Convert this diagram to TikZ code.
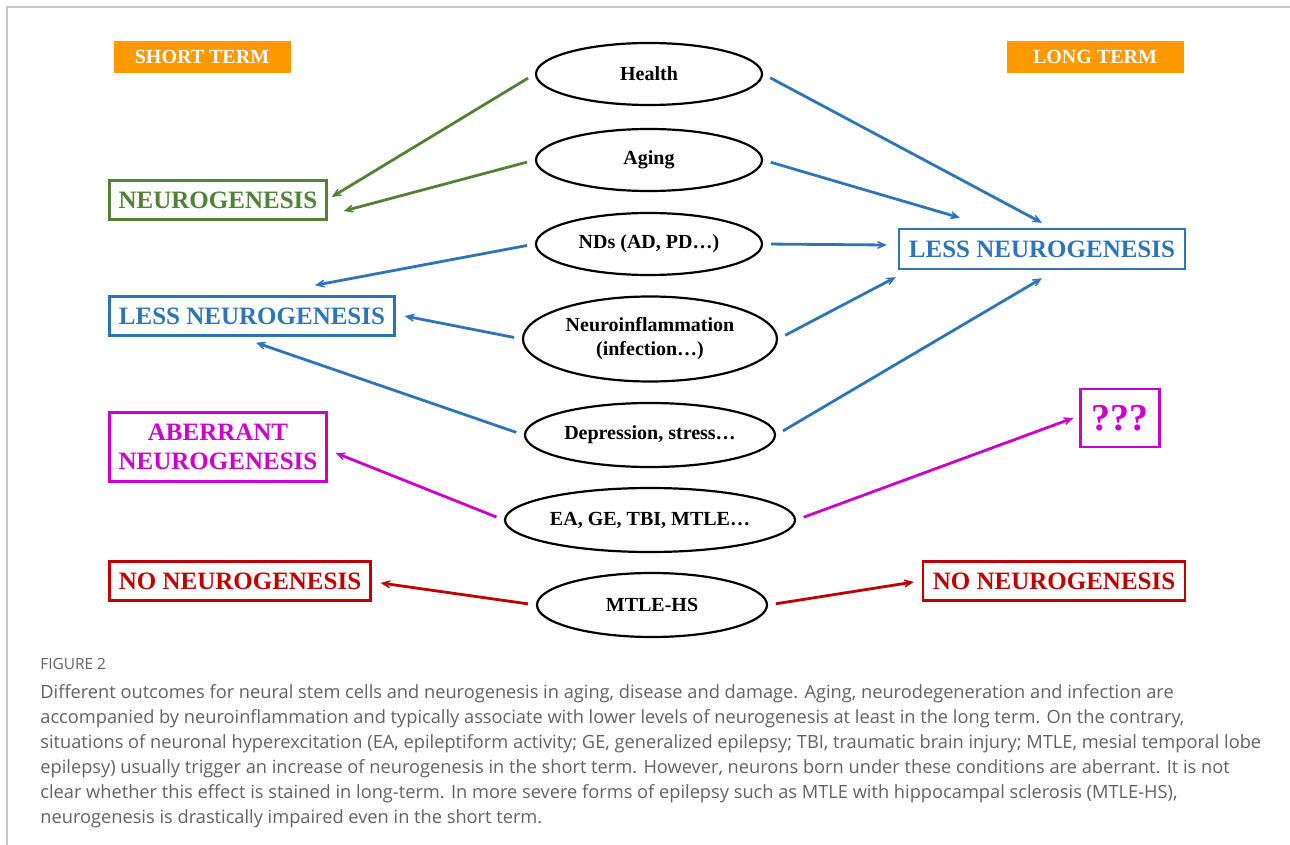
\documentclass[tikz,border=0pt]{standalone}
\usepackage{fontspec}
\setmainfont{Liberation Serif}
\newfontfamily\capfont{Open Sans}
\usetikzlibrary{arrows.meta, shapes.geometric, positioning}
\definecolor{ngreen}{HTML}{538135}
\definecolor{nblue}{HTML}{2E75B6}
\definecolor{nmag}{HTML}{CC00CC}
\definecolor{nred}{HTML}{C00000}
\definecolor{norange}{HTML}{FF9900}
\definecolor{capgray}{HTML}{626262}
\tikzset{
cond/.style={ellipse, draw, line width=1.1pt, inner sep=0pt, align=center, font=\bfseries\fontsize{10}{12}\selectfont}, % the conditions in the middle column
outcome/.style={draw=#1, text=#1, line width=1.2pt, inner sep=0pt, align=center, font=\bfseries\fontsize{12.5}{14.5}\selectfont}, % the boxes with the result
term/.style={fill=norange, text=white, minimum width=88.5pt, minimum height=16pt, font=\bfseries\fontsize{10}{12}\selectfont}, % short / long term headers
link/.style={draw=#1, line width=1.4pt, -{Stealth[length=8.5pt, width=7.5pt, inset=6pt]}, shorten <=4pt}, % coloured arrows
}

\begin{document}
\begin{tikzpicture}[x=0.5pt, y=-0.5pt]
    \useasboundingbox (0,0) rectangle (1290,845);
    \draw[gray!45, line width=0.6pt] (1290,7) -- (7,7) -- (7,845);

    \node[term] (sterm) at (202,57) {SHORT TERM};
    \node[term] (lterm) at (1095,57) {LONG TERM};

    \node[cond, minimum width=113pt, minimum height=31pt] (health) at (649,74) {Health};
    \node[cond, minimum width=113pt, minimum height=31pt] (aging) at (649,160) {Aging};
    \node[cond, minimum width=113pt, minimum height=31pt] (nds) at (649,244) {NDs (AD, PD…)};
    \node[cond, minimum width=127pt, minimum height=42.5pt] (neuroinf) at (650,339) {Neuroinflammation\\(infection…)};
    \node[cond, minimum width=125pt, minimum height=32pt] (depr) at (650,435) {Depression, stress…};
    \node[cond, minimum width=145pt, minimum height=32pt] (epil) at (650,520) {EA, GE, TBI, MTLE…};
    \node[cond, minimum width=115pt, minimum height=32pt] (mtlehs) at (652,605) {MTLE-HS};

    \node[outcome=ngreen, minimum width=108.5pt, minimum height=19.5pt] (lNeuro) at (218,200) {NEUROGENESIS};
    \node[outcome=nblue, minimum width=142.5pt, minimum height=19.5pt] (lLess) at (252,316) {LESS NEUROGENESIS};
    \node[outcome=nmag, minimum width=108.5pt, minimum height=34.5pt] (lAberr) at (218,447) {ABERRANT\\NEUROGENESIS};
    \node[outcome=nred, minimum width=130.5pt, minimum height=19.5pt] (lNo) at (240,581) {NO NEUROGENESIS};
    \node[outcome=nblue, minimum width=143pt, minimum height=20pt] (rLess) at (1042,249) {LESS NEUROGENESIS};
    \node[outcome=nmag, minimum width=39.5pt, minimum height=29pt, font=\bfseries\fontsize{19}{20}\selectfont] (rQ) at (1120,418) {???};
    \node[outcome=nred, minimum width=131pt, minimum height=19.5pt] (rNo) at (1054,581) {NO NEUROGENESIS};

    % short term
    \draw[link=ngreen] (health.west) -- ([xshift=2pt,yshift=1.5pt]lNeuro.east);
    \draw[link=ngreen] (aging.west) -- ([xshift=8pt,yshift=-5.5pt]lNeuro.east);
    \draw[link=nblue] (nds.west) -- ([xshift=31.5pt,yshift=5pt]lLess.north);
    \draw[link=nblue] (neuroinf.west) -- ([xshift=4.5pt]lLess.east);
    \draw[link=nblue] (depr.west) -- ([xshift=2pt,yshift=-3pt]lLess.south);
    \draw[link=nmag] (epil.west) -- ([xshift=4pt,yshift=-3pt]lAberr.east);
    \draw[link=nred] (mtlehs.west) -- ([xshift=4.5pt,yshift=-1pt]lNo.east);
    % long term
    \draw[link=nblue] (health.east) -- ([yshift=2.5pt]rLess.north);
    \draw[link=nblue] (aging.east) -- ([xshift=-41pt,yshift=5pt]rLess.north);
    \draw[link=nblue] (nds.east) -- ([xshift=-5.5pt,yshift=2pt]rLess.west);
    \draw[link=nblue] (neuroinf.east) -- ([xshift=-1pt,yshift=-3.5pt]rLess.south west);
    \draw[link=nblue] (depr.east) -- ([yshift=-4pt]rLess.south);
    \draw[link=nmag] (epil.east) -- ([xshift=-3pt]rQ.west);
    \draw[link=nred] (mtlehs.east) -- ([xshift=-4pt,yshift=-0.5pt]rNo.west);

    \node[anchor=north west, inner sep=0pt, text=capgray, font=\capfont\fontsize{7.7}{9}\selectfont] (fig) at (40,658) {FIGURE 2};
    \node[anchor=north west, inner sep=0pt, align=left, text=capgray, font=\capfont\fontsize{9.12}{12.5}\selectfont] (caption) at (40,684) {Different outcomes for neural stem cells and neurogenesis in aging, disease and damage. Aging, neurodegeneration and infection are\\
accompanied by neuroinflammation and typically associate with lower levels of neurogenesis at least in the long term. On the contrary,\\
situations of neuronal hyperexcitation (EA, epileptiform activity; GE, generalized epilepsy; TBI, traumatic brain injury; MTLE, mesial temporal lobe\\
epilepsy) usually trigger an increase of neurogenesis in the short term. However, neurons born under these conditions are aberrant. It is not\\
clear whether this effect is stained in long-term. In more severe forms of epilepsy such as MTLE with hippocampal sclerosis (MTLE-HS),\\
neurogenesis is drastically impaired even in the short term.};
\end{tikzpicture}
\end{document}
